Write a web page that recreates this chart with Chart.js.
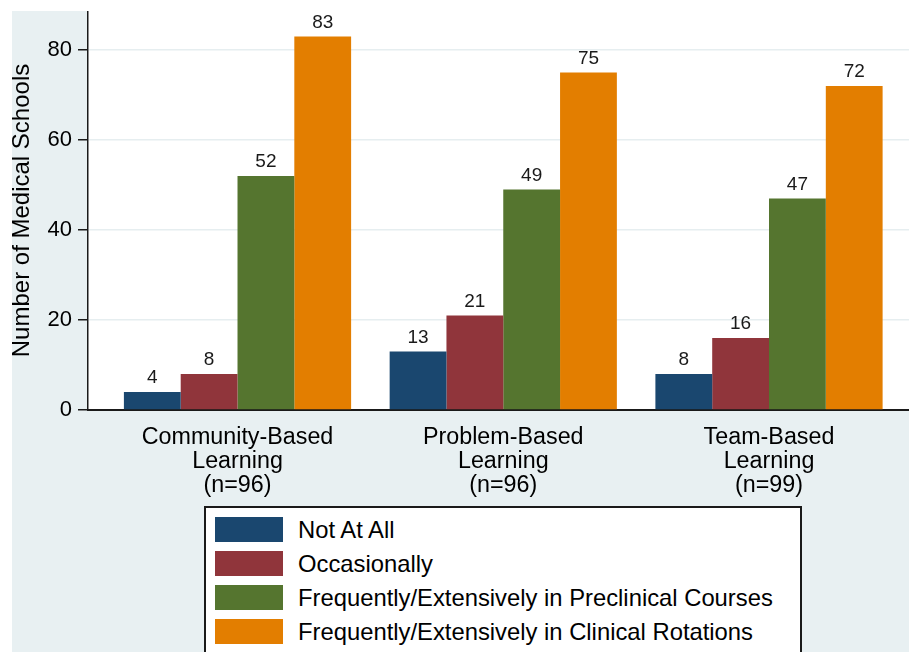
<!DOCTYPE html>
<html>
<head>
<meta charset="utf-8">
<script src="https://cdn.jsdelivr.net/npm/chart.js@4.4.1/dist/chart.umd.min.js"></script>
<style>
    html, body { margin: 0; padding: 0; background: #fff; overflow: hidden; width: 909px; height: 652px; }
    #fondo { position: absolute; left: 12px; top: 11px; width: 897px; height: 641px; background: #e8f0f2; }
    #leyenda { position: absolute; left: 204px; top: 506px; width: 598px; height: 200px; box-sizing: border-box;
               border: 2px solid #1a1a1a; background: #fff; padding-top: 4.5px;
               font-family: "Liberation Sans", Arial, sans-serif; }
    .item { display: flex; align-items: center; height: 34px; }
    .caja { width: 68px; height: 25px; margin-left: 9px; }
    .texto { margin-left: 15px; font-size: 23.8px; line-height: 25px; color: #000; }
</style>
</head>
<body>
<div id="fondo"><canvas id="miGrafica" width="897" height="641"></canvas></div>
<div id="leyenda"></div>
<script>
// Datos
const categorias = [
    ['Community-Based', 'Learning', '(n=96)'],
    ['Problem-Based', 'Learning', '(n=96)'],
    ['Team-Based', 'Learning', '(n=99)']
];
const series = [
    'Not At All',
    'Occasionally',
    'Frequently/Extensively in Preclinical Courses',
    'Frequently/Extensively in Clinical Rotations'
];
const nadaValores = [4, 13, 8];
const ocasionalValores = [8, 21, 16];
const preclinicoValores = [52, 49, 47];
const clinicoValores = [83, 75, 72];
const ticksY = [0, 20, 40, 60, 80];
const tituloY = 'Number of Medical Schools';

const colores = ['#1a476f', '#90353b', '#55752f', '#e37e00'];
const fuente = '"Liberation Sans", Arial, sans-serif';

Chart.defaults.font.family = fuente;
Chart.defaults.color = '#000';

// Fondo blanco del area de la grafica
const fondoBlanco = {
    id: 'fondoBlanco',
    beforeDraw(chart) {
        const { ctx, chartArea } = chart;
        ctx.save();
        ctx.fillStyle = '#fff';
        ctx.fillRect(chartArea.left, chartArea.top, chartArea.right - chartArea.left, chartArea.bottom - chartArea.top);
        ctx.restore();
    }
};

// Numeros encima de cada barra
const etiquetasBarras = {
    id: 'etiquetasBarras',
    afterDatasetsDraw(chart) {
        const ctx = chart.ctx;
        ctx.save();
        ctx.font = '19px ' + fuente;
        ctx.fillStyle = '#1a1a1a';
        ctx.textAlign = 'center';
        ctx.textBaseline = 'middle';
        chart.data.datasets.forEach((ds, i) => {
            chart.getDatasetMeta(i).data.forEach((barra, j) => {
                ctx.fillText(ds.data[j].y, barra.x, barra.y - 14);
            });
        });
        ctx.restore();
    }
};

const valores = [nadaValores, ocasionalValores, preclinicoValores, clinicoValores];

const ctx = document.getElementById('miGrafica').getContext('2d');
window.miGrafica = new Chart(ctx, {
    type: 'bar',
    data: {
        datasets: series.map((nombre, i) => ({
            label: nombre,
            data: valores[i].map((v, j) => ({ x: j, y: v })),
            backgroundColor: colores[i],
            borderWidth: 0,
            categoryPercentage: 0.855,
            barPercentage: 1
        }))
    },
    options: {
        responsive: false,
        animation: false,
        layout: { padding: { top: 0, right: 0, bottom: 0, left: 0 } },
        plugins: {
            legend: { display: false },
            tooltip: { enabled: false }
        },
        scales: {
            x: {
                type: 'linear',
                offset: false,
                min: -0.5626,
                max: 2.5268,
                afterBuildTicks: (escala) => { escala.ticks = categorias.map((c, i) => ({ value: i })); },
                afterFit: (escala) => {
                    escala.height = 242;
                    escala.paddingLeft = 0;
                    escala.paddingRight = 0;
                },
                grid: { display: true, offset: false, drawOnChartArea: false, drawTicks: false, color: 'rgba(0,0,0,0)' },
                border: { display: true, color: '#1a1a1a', width: 2 },
                ticks: {
                    autoSkip: false,
                    maxRotation: 0,
                    padding: 16,
                    color: '#000',
                    font: { size: 23.3, lineHeight: 1.03 },
                    callback: (valor) => categorias[valor]
                }
            },
            y: {
                min: 0,
                max: 88.67,
                afterBuildTicks: (escala) => { escala.ticks = ticksY.map(v => ({ value: v })); },
                afterFit: (escala) => {
                    escala.width = 76;
                    escala.paddingTop = 0;
                    escala.paddingBottom = 0;
                },
                grid: {
                    color: (c) => c.tick && c.tick.value === 0 ? 'rgba(0,0,0,0)' : '#e6eef0',
                    lineWidth: 1.5,
                    tickLength: 10,
                    tickColor: '#1a1a1a',
                    tickWidth: 1.5
                },
                border: { display: true, color: '#1a1a1a', width: 1.5 },
                ticks: { padding: 6, color: '#000', font: { size: 22 } },
                title: {
                    display: true,
                    text: tituloY,
                    color: '#000',
                    font: { size: 24, lineHeight: 0.85 },
                    padding: { top: 0, bottom: 0 }
                }
            }
        }
    },
    plugins: [fondoBlanco, etiquetasBarras]
});

// Leyenda en HTML con recuadro
const leyenda = document.getElementById('leyenda');
window.miGrafica.data.datasets.forEach(ds => {
    const item = document.createElement('div');
    item.className = 'item';
    const caja = document.createElement('div');
    caja.className = 'caja';
    caja.style.background = ds.backgroundColor;
    const texto = document.createElement('span');
    texto.className = 'texto';
    texto.textContent = ds.label;
    item.appendChild(caja);
    item.appendChild(texto);
    leyenda.appendChild(item);
});
</script>
</body>
</html>
